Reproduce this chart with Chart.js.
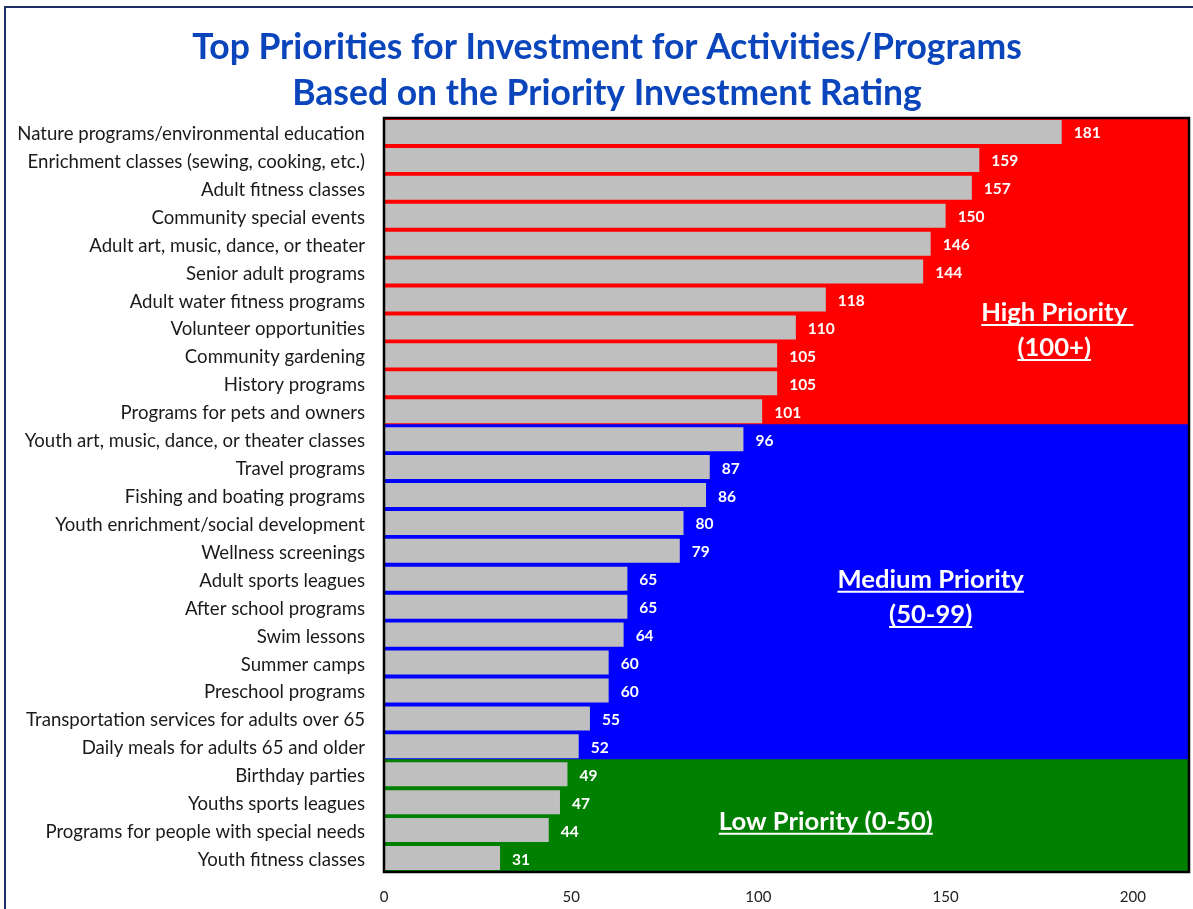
<!DOCTYPE html>
<html>
<head>
<meta charset="utf-8">
<script src="https://cdn.jsdelivr.net/npm/chart.js@4.4.1/dist/chart.umd.min.js"></script>
<style>
  html, body { margin: 0; padding: 0; background: #fff; overflow: hidden; }
  #frame { position: absolute; left: 4px; top: 6px; width: 1220px; height: 940px; border: 2px solid #1F3064; box-sizing: border-box; }
  #chart { position: absolute; left: 0; top: 0; }
</style>
</head>
<body>
<div id="frame"></div>
<canvas id="chart" width="1193" height="909"></canvas>
<script>
// data
const categories = [
    "Nature programs/environmental education",
    "Enrichment classes (sewing, cooking, etc.)",
    "Adult fitness classes",
    "Community special events",
    "Adult art, music, dance, or theater",
    "Senior adult programs",
    "Adult water fitness programs",
    "Volunteer opportunities",
    "Community gardening",
    "History programs",
    "Programs for pets and owners",
    "Youth art, music, dance, or theater classes",
    "Travel programs",
    "Fishing and boating programs",
    "Youth enrichment/social development",
    "Wellness screenings",
    "Adult sports leagues",
    "After school programs",
    "Swim lessons",
    "Summer camps",
    "Preschool programs",
    "Transportation services for adults over 65",
    "Daily meals for adults 65 and older",
    "Birthday parties",
    "Youths sports leagues",
    "Programs for people with special needs",
    "Youth fitness classes"
];
const ratings = [181, 159, 157, 150, 146, 144, 118, 110, 105, 105, 101, 96, 87, 86, 80, 79, 65, 65, 64, 60, 60, 55, 52, 49, 47, 44, 31];
const xTicks = [0, 50, 100, 150, 200];
const xMax = 215;
const tierNames = [["High Priority ", "(100+)"], ["Medium Priority", "(50-99)"], ["Low Priority (0-50)"]];
const tierMins = [100, 50, 0];
const titleLines = ["Top Priorities for Investment for Activities/Programs", "Based on the Priority Investment Rating"];

const tierColors = ["#FF0000", "#0000FF", "#008000"];
const FONT = "Lato, 'Open Sans', sans-serif";

function tierOf(v) {
    return tierMins.findIndex(m => v >= m);
}

// pick a font size so a string measures a target width
function fitSize(text, weight, target) {
    const c = document.createElement("canvas").getContext("2d");
    c.font = `${weight} 100px ${FONT}`;
    return 100 * target / c.measureText(text).width;
}

const titleSize = fitSize(titleLines[0], "bold", 830);
const catSize = fitSize(categories[0], "normal", 348);
const valSize = 15.5;
const tickSize = 15;
const tierSize = fitSize("High Priority", "bold", 146);

// where the tier captions sit: x in rating units, baselines in row index units
const tierSpots = [
    { x: 179, rows: [6.77, 8.02] },
    { x: 146, rows: [16.32, 17.58] },
    { x: 118, rows: [24.99] }
];

const decor = {
    id: "decor",
    afterDatasetsDraw(chart) {
        const ctx = chart.ctx;
        const xs = chart.scales.x, ys = chart.scales.y;
        const area = chart.chartArea;
        ctx.save();

        // value labels
        ctx.fillStyle = "#fff";
        ctx.font = `bold ${valSize}px ${FONT}`;
        ctx.textAlign = "left";
        ctx.textBaseline = "middle";
        ratings.forEach((v, i) => {
            ctx.fillText(String(v), xs.getPixelForValue(v) + 12, ys.getPixelForValue(i) + 1.5);
        });

        // tier captions, underlined
        ctx.font = `bold ${tierSize}px ${FONT}`;
        ctx.textAlign = "left";
        ctx.textBaseline = "alphabetic";
        ctx.strokeStyle = "#fff";
        ctx.lineWidth = 2;
        tierNames.forEach((lines, t) => {
            const spot = tierSpots[t];
            const cx = xs.getPixelForValue(spot.x);
            lines.forEach((line, k) => {
                const w = ctx.measureText(line).width;
                const wTrim = ctx.measureText(line.trimEnd()).width;
                const left = cx - wTrim / 2;
                const base = ys.getPixelForValue(spot.rows[k]);
                ctx.fillText(line, left, base);
                ctx.beginPath();
                ctx.moveTo(left, base + 4);
                ctx.lineTo(left + w, base + 4);
                ctx.stroke();
            });
        });

        // plot frame
        ctx.strokeStyle = "#000";
        ctx.lineWidth = 2.5;
        ctx.strokeRect(area.left, area.top, area.right - area.left, area.bottom - area.top);

        ctx.restore();
    },
    afterDraw(chart) {
        const ctx = chart.ctx;
        ctx.save();
        ctx.fillStyle = "#0B45BB";
        ctx.font = `bold ${titleSize}px ${FONT}`;
        ctx.textAlign = "center";
        ctx.textBaseline = "middle";
        ctx.fillText(titleLines[0], 607, 48);
        ctx.fillText(titleLines[1], 607, 94);
        ctx.restore();
    }
};

new Chart(document.getElementById("chart").getContext("2d"), {
    type: "bar",
    data: {
        labels: categories,
        datasets: [
            {
                label: "Rating",
                data: ratings,
                backgroundColor: "#BFBFBF",
                barPercentage: 0.86,
                categoryPercentage: 1,
                grouped: false,
                order: 1
            },
            {
                label: "Tier",
                data: ratings.map(() => xMax),
                backgroundColor: ratings.map(v => tierColors[tierOf(v)]),
                barPercentage: 1,
                categoryPercentage: 1,
                inflateAmount: 1,
                grouped: false,
                order: 2
            }
        ]
    },
    options: {
        indexAxis: "y",
        responsive: false,
        animation: false,
        layout: { padding: { top: 118, right: 4, left: 0, bottom: 0 } },
        plugins: {
            legend: { display: false },
            tooltip: { enabled: false },
            title: { display: false }
        },
        scales: {
            x: {
                min: 0,
                max: xMax,
                grid: { display: false, drawTicks: false },
                border: { display: false },
                afterBuildTicks: s => { s.ticks = xTicks.map(v => ({ value: v })); },
                afterFit: s => { s.height = 37; },
                ticks: {
                    padding: 16,
                    color: "#222",
                    font: { family: FONT, size: tickSize }
                }
            },
            y: {
                grid: { display: false, drawTicks: false },
                border: { display: false },
                afterFit: s => { s.width = 384; },
                ticks: {
                    padding: 19,
                    labelOffset: 2,
                    autoSkip: false,
                    color: "#1a1a1a",
                    font: { family: FONT, size: catSize }
                }
            }
        }
    },
    plugins: [decor]
});
</script>
</body>
</html>
